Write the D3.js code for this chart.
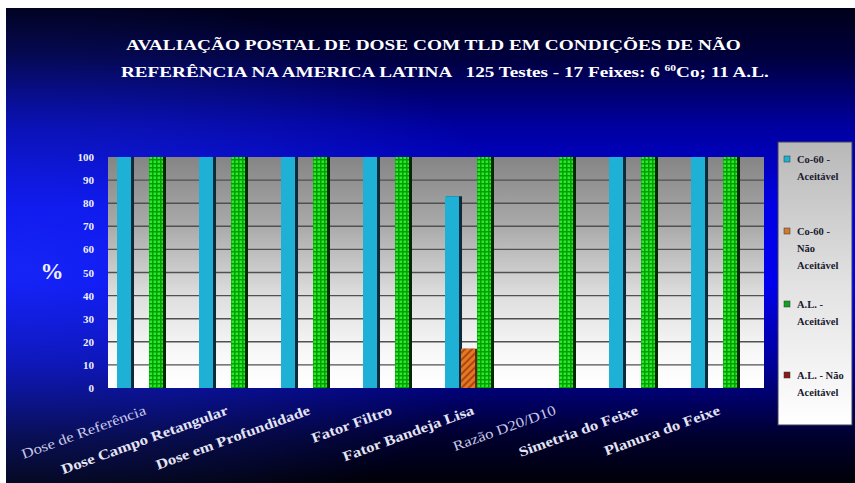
<!DOCTYPE html>
<html>
<head>
<meta charset="utf-8">
<script src="https://cdn.jsdelivr.net/npm/d3@7"></script>
<style>
  html, body { margin: 0; padding: 0; background: #ffffff; }
  svg { display: block; }
</style>
</head>
<body>
<svg id="chart" width="855" height="483"></svg>
<script>
// Parameters evaluated in the postal TLD audit
const categories = [
  "Dose de Referência",
  "Dose Campo Retangular",
  "Dose em Profundidade",
  "Fator Filtro",
  "Fator Bandeja Lisa",
  "Razão D20/D10",
  "Simetria do Feixe",
  "Planura do Feixe"
];

// Series names (legend text, split into lines)
const seriesNames = ["Co-60 - Aceitável", "Co-60 - Não Aceitável", "A.L. - Aceitável", "A.L. - Não Aceitável"];
const legendLines = [["Co-60 -", "Aceitável"], ["Co-60 -", "Não", "Aceitável"], ["A.L. -", "Aceitável"], ["A.L. - Não", "Aceitável"]];

// Percentages per parameter
const co60Aceitavel    = [100, 100, 100, 100, 83, 0, 100, 100];
const co60NaoAceitavel = [0, 0, 0, 0, 17, 0, 0, 0];
const alAceitavel      = [100, 100, 100, 100, 100, 100, 100, 100];
const alNaoAceitavel   = [0, 0, 0, 0, 0, 0, 0, 0];

const yTicks = [0, 10, 20, 30, 40, 50, 60, 70, 80, 90, 100];

const seriesValues = [co60Aceitavel, co60NaoAceitavel, alAceitavel, alNaoAceitavel];

const SERIF = "'Liberation Serif', 'Times New Roman', 'DejaVu Serif', serif";

const svg = d3.select("#chart").style("font-family", SERIF);
const defs = svg.append("defs");

// Slide background: dark navy top, bright blue middle, near black bottom
const bg = defs.append("linearGradient").attr("id", "bgGrad").attr("x1", 0).attr("y1", 0).attr("x2", 0).attr("y2", 1);
[[0, "#00001a"], [0.1, "#00003c"], [0.25, "#0000a0"], [0.42, "#0000e6"], [0.58, "#0000ee"], [0.75, "#00009a"], [0.9, "#000030"], [1, "#000008"]]
  .forEach(([o, c]) => bg.append("stop").attr("offset", o).attr("stop-color", c));
const glow = defs.append("radialGradient").attr("id", "glow").attr("cx", 0.02).attr("cy", 0.55).attr("r", 0.6);
glow.append("stop").attr("offset", 0).attr("stop-color", "#3050ff").attr("stop-opacity", 0.45);
glow.append("stop").attr("offset", 1).attr("stop-color", "#3050ff").attr("stop-opacity", 0);

// Plot area: grey at the top fading to white
const pg = defs.append("linearGradient").attr("id", "plotGrad").attr("x1", 0).attr("y1", 0).attr("x2", 0).attr("y2", 1);
[[0, "#858585"], [0.3, "#aaaaaa"], [0.6, "#dedede"], [0.85, "#f8f8f8"], [1, "#ffffff"]]
  .forEach(([o, c]) => pg.append("stop").attr("offset", o).attr("stop-color", c));

// Legend box gradient
const lg = defs.append("linearGradient").attr("id", "legGrad").attr("x1", 0).attr("y1", 0).attr("x2", 0).attr("y2", 1);
[[0, "#b8b8b8"], [0.5, "#e2e2e2"], [1, "#ffffff"]]
  .forEach(([o, c]) => lg.append("stop").attr("offset", o).attr("stop-color", c));

// Green checker fill
const gp = defs.append("pattern").attr("id", "greenPat").attr("patternUnits", "userSpaceOnUse").attr("width", 4).attr("height", 4);
gp.append("rect").attr("width", 4).attr("height", 4).attr("fill", "#00a000");
gp.append("rect").attr("x", 0.5).attr("y", 0.5).attr("width", 2.5).attr("height", 2.5).attr("fill", "#2ee82e");

// Orange diagonal hatch
const op = defs.append("pattern").attr("id", "orangePat").attr("patternUnits", "userSpaceOnUse")
  .attr("width", 5).attr("height", 5).attr("patternTransform", "rotate(45)");
op.append("rect").attr("width", 5).attr("height", 5).attr("fill", "#e8781e");
op.append("rect").attr("width", 2).attr("height", 5).attr("fill", "#a8481a");

const fills = ["#1fb0d6", "url(#orangePat)", "url(#greenPat)", "#8a1a1a"];
const swatch = ["#1fb0d6", "#d07a30", "#10a020", "#8a1a1a"];
const shadows = ["#0c2a3a", "#5a2a10", "#002800", "#300000"];

svg.append("rect").attr("x", 6).attr("y", 8).attr("width", 849).attr("height", 475).attr("fill", "url(#bgGrad)");
svg.append("rect").attr("x", 6).attr("y", 8).attr("width", 849).attr("height", 475).attr("fill", "url(#glow)");

const plot = { left: 108, right: 764, top: 157, bottom: 388 };

const x0 = d3.scaleBand().domain(categories).range([plot.left, plot.right]).paddingInner(0.22).paddingOuter(0.11);
const x1 = d3.scaleBand().domain(seriesNames).range([0, x0.bandwidth()]);
const y = d3.scaleLinear().domain([0, 100]).range([plot.bottom, plot.top]);

// Plot background and gridlines
svg.append("rect").attr("x", plot.left).attr("y", plot.top)
  .attr("width", plot.right - plot.left).attr("height", plot.bottom - plot.top).attr("fill", "url(#plotGrad)");
svg.append("g").selectAll("line").data(yTicks.filter(t => t > 0 && t < 100)).join("line")
  .attr("x1", plot.left).attr("x2", plot.right)
  .attr("y1", d => y(d)).attr("y2", d => y(d))
  .attr("stroke", "#505050").attr("stroke-width", 1.4);

// Bars
const groups = svg.append("g").selectAll("g").data(categories).join("g")
  .attr("transform", d => `translate(${x0(d)},0)`);
groups.each(function(cat, ci) {
  const g = d3.select(this);
  seriesNames.forEach((s, si) => {
    const v = seriesValues[si][ci];
    if (v <= 0) return;
    const bx = x1(s), bw = x1.bandwidth();
    g.append("rect").attr("x", bx + 1).attr("y", y(v)).attr("width", bw).attr("height", y(0) - y(v))
      .attr("fill", shadows[si]);
    g.append("rect").attr("x", bx).attr("y", y(v)).attr("width", bw - 2).attr("height", y(0) - y(v))
      .attr("fill", fills[si]);
  });
});

// Y axis labels
const yAxis = svg.append("g").attr("transform", `translate(${plot.left - 14},0)`)
  .call(d3.axisLeft(y).tickValues(yTicks).tickSize(0).tickPadding(0));
yAxis.attr("font-family", null);
yAxis.select(".domain").remove();
yAxis.selectAll("text").attr("fill", "#f0f0ff").attr("font-size", 11).attr("font-weight", "bold")
  .style("font-family", SERIF);

svg.append("text").attr("x", 52).attr("y", 279).attr("text-anchor", "middle")
  .attr("fill", "#f0f0ff").attr("font-size", 23).attr("font-weight", "bold").style("font-family", SERIF).text("%");

// Category labels, slanted
const lightLabels = new Set(["Dose de Referência", "Razão D20/D10"]);
svg.append("g").selectAll("text").data(categories).join("text")
  .attr("transform", d => `translate(${x0(d) + x0.bandwidth() / 2 - 2},414) rotate(-20) scale(1.2,1)`)
  .attr("text-anchor", "end")
  .attr("fill", d => lightLabels.has(d) ? "#c8c8e8" : "#e4e4f4")
  .attr("font-size", 14)
  .attr("font-weight", d => lightLabels.has(d) ? "normal" : "bold")
  .style("font-family", SERIF)
  .text(d => d);

// Title
function fitLine(sel, x0t, x1t) {
  const w = sel.node().getComputedTextLength();
  const base = +sel.attr("y");
  sel.attr("x", 0).attr("y", 0)
    .attr("transform", `translate(${x0t},${base}) scale(${(x1t - x0t) / w},1)`);
}
const t1 = svg.append("text").attr("y", 50).attr("fill", "#ffffff").attr("font-size", 15).attr("font-weight", "bold")
  .style("font-family", SERIF)
  .text("AVALIAÇÃO POSTAL DE DOSE COM TLD EM CONDIÇÕES DE NÃO");
fitLine(t1, 126, 741);
const t2 = svg.append("text").attr("y", 77).attr("fill", "#ffffff").attr("font-size", 15).attr("font-weight", "bold")
  .style("font-family", SERIF).style("white-space", "pre");
t2.append("tspan").text("REFERÊNCIA NA AMERICA LATINA   125 Testes - 17 Feixes: 6 ");
t2.append("tspan").attr("dy", -6).attr("font-size", 9).text("60");
t2.append("tspan").attr("dy", 6).text("Co; 11 A.L.");
fitLine(t2, 121, 769);

// Legend
const leg = svg.append("g");
leg.append("rect").attr("x", 778).attr("y", 142).attr("width", 74).attr("height", 283)
  .attr("fill", "url(#legGrad)").attr("stroke", "#404060").attr("stroke-width", 1);
const legY = [160, 232, 305, 376];
legendLines.forEach((lines, i) => {
  leg.append("rect").attr("x", 784).attr("y", legY[i] - 4).attr("width", 6).attr("height", 6)
    .attr("fill", swatch[i]).attr("stroke", "#333").attr("stroke-width", 0.5);
  lines.forEach((ln, j) => {
    leg.append("text").attr("x", 797).attr("y", legY[i] + 3 + j * 17)
      .attr("fill", "#1a1a30").attr("font-size", 10.5).attr("font-weight", "bold")
      .style("font-family", SERIF).text(ln);
  });
});
</script>
</body>
</html>
